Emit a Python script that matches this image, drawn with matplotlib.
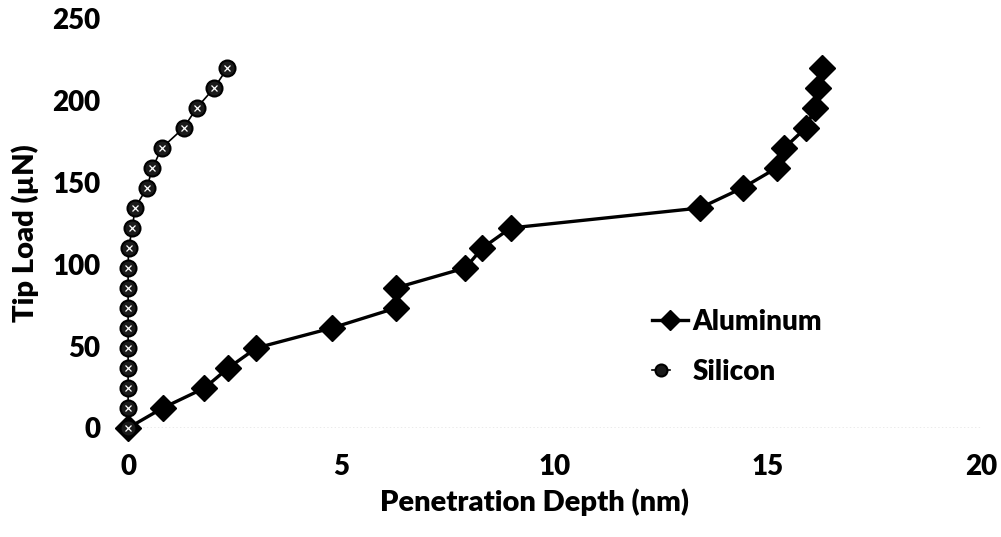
import matplotlib
matplotlib.use("Agg")
import matplotlib.pyplot as plt
from matplotlib.legend_handler import HandlerTuple

plt.rcParams['font.family'] = ['Lato', 'DejaVu Sans']
plt.rcParams['font.weight'] = 'heavy'

# tip load steps shared by both samples (uN)
load = [0, 12.2, 24.4, 36.7, 48.9, 61.1, 73.3, 85.6, 97.8, 110.0,
        122.2, 134.4, 146.7, 158.9, 171.1, 183.3, 195.6, 207.8, 220.0]

# penetration depth (nm)
al_depth = [0, 0.81, 1.79, 2.35, 3.01, 4.78, 6.28, 6.28, 7.91, 8.31,
            8.97, 13.41, 14.41, 15.21, 15.39, 15.89, 16.11, 16.17, 16.28]
si_depth = [0, 0, 0, 0, 0, 0, 0, 0, 0, 0.01,
            0.10, 0.16, 0.44, 0.57, 0.79, 1.30, 1.61, 2.02, 2.33]

xticks = [0, 5, 10, 15, 20]
yticks = [0, 50, 100, 150, 200, 250]

fig = plt.figure(figsize=(10.01, 5.37), dpi=100)
ax = fig.add_axes([0.128, 0.203, 0.852, 0.762])

al, = ax.plot(al_depth, load, color='black', lw=2.4, marker='D',
              markersize=13, zorder=3, clip_on=False)
si, = ax.plot(si_depth, load, color='black', lw=1.2, marker='o',
              markersize=11.5, markerfacecolor='#1a1a1a',
              markeredgecolor='black', markeredgewidth=1.5, zorder=4,
              clip_on=False)
si_dots, = ax.plot(si_depth, load, ls='none', marker='x', markersize=4.5,
                   markeredgecolor='white', markeredgewidth=0.9, zorder=5,
                   clip_on=False)

ax.axhline(0, color='#999999', ls=':', lw=1.0, zorder=1)

ax.set_xlim(0, 20)
ax.set_ylim(0, 250)
ax.set_xticks(xticks)
ax.set_yticks(yticks)
ax.tick_params(axis='both', length=0, labelsize=20)
ax.tick_params(axis='x', pad=19)
ax.tick_params(axis='y', pad=20)
for s in ax.spines.values():
    s.set_visible(False)
ax.patch.set_alpha(0)

fig.text(535 / 1001, (537 - 502) / 537, 'Penetration Depth (nm)', ha='center',
         va='center', fontsize=21, fontweight='heavy')
fig.text(25 / 1001, (537 - 233) / 537, 'Tip Load (µN)', ha='center', va='center',
         rotation=90, fontsize=21, fontweight='heavy')

leg = ax.legend([al, (si, si_dots)], ['Aluminum', 'Silicon'],
                handler_map={tuple: HandlerTuple(ndivide=None, pad=0)},
                loc='upper left', bbox_to_anchor=(652 / 1001, (537 - 309) / 537),
                bbox_transform=fig.transFigure, frameon=False, fontsize=20,
                handlelength=1.3, handletextpad=0.15, labelspacing=0.85,
                borderpad=0, borderaxespad=0, markerscale=0.75)

fig.savefig('out.png', dpi=100)
